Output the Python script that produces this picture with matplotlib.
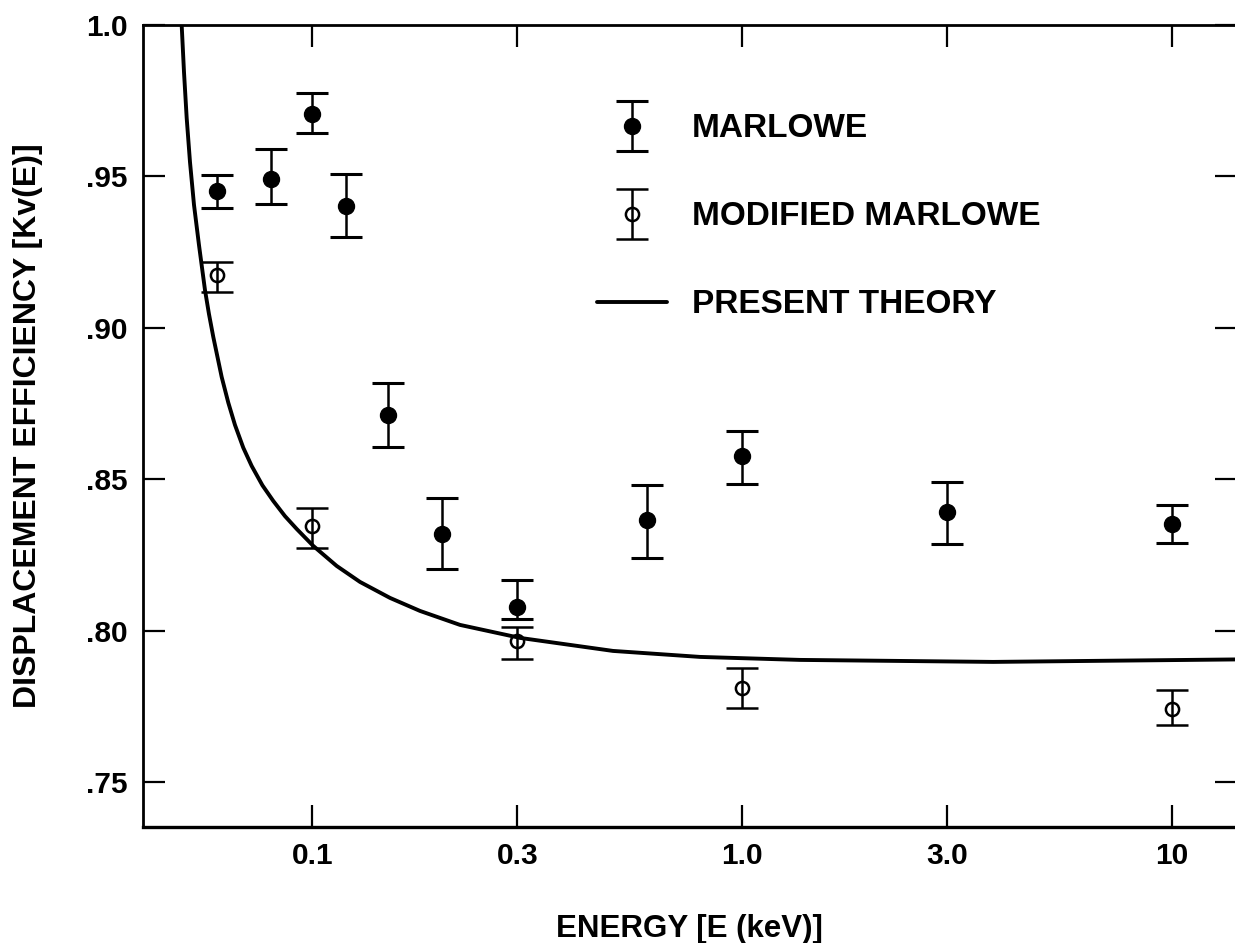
import matplotlib
matplotlib.use("Agg")
import matplotlib.pyplot as plt
from matplotlib import font_manager
from matplotlib.container import ErrorbarContainer
from matplotlib.legend_handler import HandlerErrorbar
from matplotlib.ticker import NullLocator
import numpy as np

# ---- data -------------------------------------------------------------
# MARLOWE simulation: energy (keV), efficiency, upper / lower error limits
marlowe_e = [0.06, 0.08, 0.10, 0.12, 0.15, 0.20, 0.30, 0.60, 1.0, 3.0, 10.0]
marlowe_k = [0.9453, 0.9490, 0.9705, 0.9403, 0.8711, 0.8318, 0.8079, 0.8365, 0.8578, 0.8391, 0.8352]
marlowe_hi = [0.9505, 0.9590, 0.9776, 0.9507, 0.8819, 0.8439, 0.8167, 0.8481, 0.8660, 0.8492, 0.8415]
marlowe_lo = [0.9395, 0.9409, 0.9642, 0.9301, 0.8606, 0.8204, 0.8038, 0.8239, 0.8484, 0.8286, 0.8288]

# Modified MARLOWE simulation
mod_e = [0.06, 0.10, 0.30, 1.0, 10.0]
mod_k = [0.9174, 0.8345, 0.7966, 0.7811, 0.7740]
mod_hi = [0.9218, 0.8404, 0.8013, 0.7877, 0.7804]
mod_lo = [0.9119, 0.8272, 0.7905, 0.7743, 0.7688]

# Present theory curve
theory_e = [0.04960, 0.05022, 0.05095, 0.05186, 0.05299, 0.05442, 0.05620,
            0.05741, 0.05876, 0.06146, 0.06368, 0.06600, 0.06901, 0.07218,
            0.07647, 0.08104, 0.08629, 0.09188, 0.10043, 0.11385, 0.12900,
            0.15152, 0.17795, 0.22054, 0.30420, 0.50060, 0.79837, 1.3646,
            3.8405, 14.206]
theory_k = [1.00000, 0.98448, 0.96929, 0.95476, 0.94055, 0.92734, 0.91248,
            0.90456, 0.89696, 0.88375, 0.87526, 0.86790, 0.86037, 0.85436,
            0.84795, 0.84280, 0.83778, 0.83355, 0.82794, 0.82133, 0.81605,
            0.81077, 0.80647, 0.80185, 0.79756, 0.79326, 0.79128, 0.79029,
            0.78963, 0.79045]

x_ticks = [0.1, 0.3, 1.0, 3.0, 10.0]
x_ticklabels = ["0.1", "0.3", "1.0", "3.0", "10"]
y_ticks = [0.75, 0.80, 0.85, 0.90, 0.95, 1.00]
y_ticklabels = [".75", ".80", ".85", ".90", ".95", "1.0"]

labels = ["MARLOWE", "MODIFIED MARLOWE", "PRESENT THEORY"]

# ---- fonts ------------------------------------------------------------
def has_font(name):
    try:
        font_manager.findfont(font_manager.FontProperties(family=name),
                              fallback_to_default=False)
        return True
    except Exception:
        return False

main_font = "Liberation Sans" if has_font("Liberation Sans") else "DejaVu Sans"
tick_font = "Liberation Sans Narrow" if has_font("Liberation Sans Narrow") else main_font
plt.rcParams["font.family"] = [main_font, "DejaVu Sans"]
plt.rcParams["font.weight"] = "bold"

# ---- figure -----------------------------------------------------------
fig = plt.figure(figsize=(12.35, 9.43), dpi=100)
ax = fig.add_axes([0.11555, 0.12333, 0.8861, 0.85016])

ax.set_xscale("log")
ax.set_xlim(0.04025, 14.2)
ax.set_ylim(0.7352, 1.0)

def yerr(k, lo, hi):
    k, lo, hi = map(np.asarray, (k, lo, hi))
    return np.vstack([k - lo, hi - k])

h_marlowe = ax.errorbar(marlowe_e, marlowe_k, yerr=yerr(marlowe_k, marlowe_lo, marlowe_hi),
                        fmt="o", color="black", ms=11.5, elinewidth=1.8,
                        capsize=11.5, capthick=2.2, zorder=3)
h_mod = ax.errorbar(mod_e, mod_k, yerr=yerr(mod_k, mod_lo, mod_hi),
                    fmt="o", color="black", mfc="none", mec="black", mew=1.8, ms=9.5,
                    elinewidth=1.8, capsize=11.5, capthick=2.2, zorder=3)
h_theory, = ax.plot(theory_e, theory_k, color="black", lw=2.8, zorder=2,
                    solid_joinstyle="round", solid_capstyle="round")

# ---- axes styling -----------------------------------------------------
for side in ["left", "bottom", "top", "right"]:
    ax.spines[side].set_linewidth(2.0)
ax.spines["bottom"].set_linewidth(2.4)

ax.set_xticks(x_ticks)
ax.set_xticklabels(x_ticklabels)
ax.xaxis.set_minor_locator(NullLocator())
ax.set_yticks(y_ticks)
ax.set_yticklabels(y_ticklabels)
ax.yaxis.set_minor_locator(NullLocator())
ax.tick_params(axis="both", which="major", direction="in", length=16, width=1.6,
               top=True, right=True, labelsize=21.5, pad=11)
for lab in ax.get_xticklabels() + ax.get_yticklabels():
    lab.set_family([tick_font, "DejaVu Sans"])
    lab.set_fontweight("bold")

ax.set_xlabel("ENERGY [E (keV)]", fontsize=22.5, fontweight="bold", va="baseline")
ax.xaxis.set_label_coords(0.5, -0.1376)
ax.set_ylabel("DISPLACEMENT EFFICIENCY [Kv(E)]", fontsize=23, fontweight="bold", va="center")
ax.yaxis.set_label_coords(-0.1050, 0.5)

leg = ax.legend([h_marlowe, h_mod, h_theory], labels,
                loc="upper left", bbox_to_anchor=(0.415, 0.89),
                frameon=False, fontsize=24, handlelength=2.1,
                handletextpad=0.75, labelspacing=1.71, borderpad=0,
                borderaxespad=0,
                handler_map={ErrorbarContainer: HandlerErrorbar(xerr_size=0.5, yerr_size=0.75)})
for t in leg.get_texts():
    t.set_fontweight("bold")

fig.savefig("out.png", dpi=100, facecolor="white")
